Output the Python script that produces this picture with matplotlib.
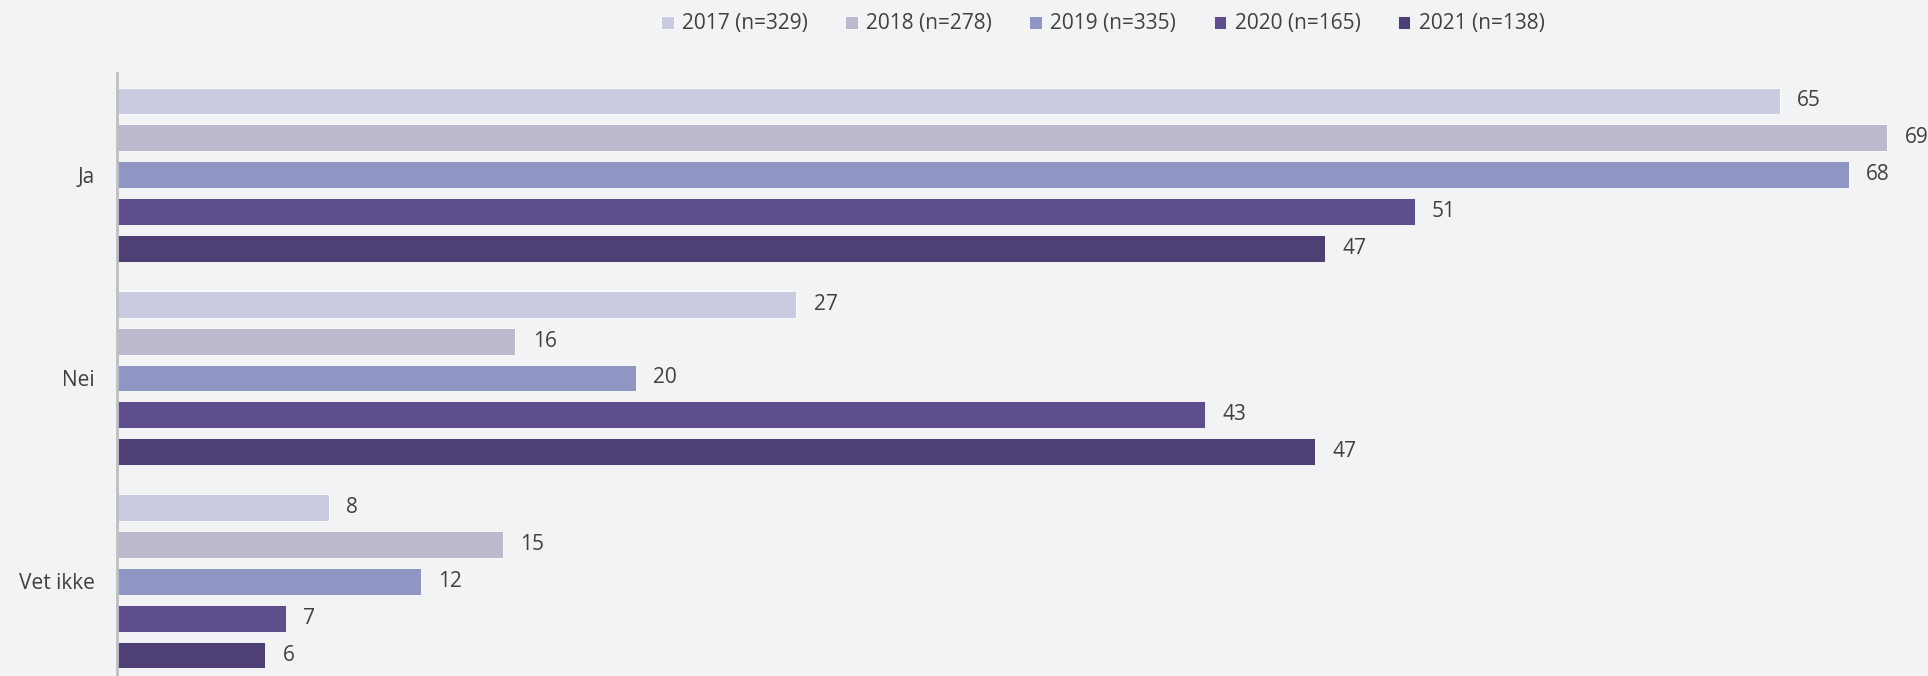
import numpy as np
import matplotlib
matplotlib.use("Agg")
import matplotlib.pyplot as plt

plt.rcParams['font.family'] = ['Open Sans', 'DejaVu Sans']

categories = ["Ja", "Nei", "Vet ikke"]
series = ["2017 (n=329)", "2018 (n=278)", "2019 (n=335)", "2020 (n=165)", "2021 (n=138)"]
# percent per year (labels are rounded)
v2017 = [65.1, 26.6, 8.3]
v2018 = [69.3, 15.6, 15.1]
v2019 = [67.8, 20.3, 11.9]
v2020 = [50.8, 42.6, 6.6]
v2021 = [47.3, 46.9, 5.8]
values = [v2017, v2018, v2019, v2020, v2021]
colors = ["#C9CCE0", "#BCB8CE", "#9096C4", "#5F4E8E", "#4E4075"]

bg = "#F2F3F5"
txt = "#404040"

fig = plt.figure(figsize=(19.28, 6.76), dpi=100, facecolor=bg)
ax = fig.add_axes([117/1928, 0, 1 - 117/1928, 1 - 73/676])
ax.set_facecolor(bg)

group_step = 5.53
bar_h = 0.73
for i, (name, vals, c) in enumerate(zip(series, values, colors)):
    ys = np.arange(len(categories)) * group_step + i
    ax.barh(ys, vals, height=bar_h, color=c, edgecolor="#FFFFFF", linewidth=0.6, label=name)
    for y, v in zip(ys, vals):
        ax.text(v + 0.68, y, "%.0f" % v, va="center", ha="left", fontsize=15, color=txt)

ax.set_xlim(0, 70.9)
ax.set_ylim(2 * group_step + 4 + 0.57, -0.76)
ax.set_yticks(np.arange(len(categories)) * group_step + 2)
ax.set_yticklabels(categories, fontsize=15, color=txt)
ax.tick_params(axis="y", length=0, pad=16)
ax.set_xticks([])
for s in ["top", "right", "bottom"]:
    ax.spines[s].set_visible(False)
ax.spines["left"].set_color("#BFBFBF")
ax.spines["left"].set_linewidth(2)

handles, labels = ax.get_legend_handles_labels()
fig.legend(handles, labels, loc="center", bbox_to_anchor=(0.572, 1 - 24/676), ncol=5,
           frameon=False, fontsize=15, labelcolor=txt, handlelength=0.6, handleheight=0.6,
           handletextpad=0.4, columnspacing=1.8)

fig.savefig("out.png", dpi=100, facecolor=bg)
